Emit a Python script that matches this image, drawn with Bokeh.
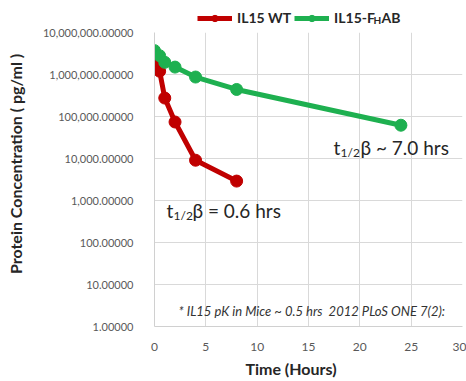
from math import pi
from bokeh.plotting import figure
from bokeh.layouts import column
from bokeh.models import (Range1d, FixedTicker, NumeralTickFormatter, Label,
                          Legend, LegendItem)
from bokeh.embed import file_html
from bokeh.resources import INLINE

# ---- data ----
wt_time = [0, 0.5, 1, 2, 4, 8]
wt_conc = [2300000, 1200000, 275000, 74000, 9100, 2900]
fhab_time = [0, 0.5, 1, 2, 4, 8, 24]
fhab_conc = [3700000, 2800000, 1950000, 1500000, 870000, 440000, 62000]
x_ticks = [0, 5, 10, 15, 20, 25, 30]
y_ticks = [1, 10, 100, 1e3, 1e4, 1e5, 1e6, 1e7]

RED = "#C00000"
GREEN = "#1EB050"
FONT = "Lato"
DARK = "#262626"
NB = "\u00a0"

LEG_H = 26

# ---------------- main chart ----------------
p = figure(width=466, height=354, y_axis_type="log",
           x_range=Range1d(0, 30), y_range=Range1d(1, 1e7),
           output_backend="svg", toolbar_location=None,
           min_border_left=154, min_border_right=4,
           min_border_top=6, min_border_bottom=52)
p.outline_line_color = None

p.xaxis.ticker = FixedTicker(ticks=x_ticks)
p.yaxis.ticker = FixedTicker(ticks=y_ticks)
p.yaxis.formatter = NumeralTickFormatter(format="0,0.00000")
for ax in (p.xaxis, p.yaxis):
    ax.major_tick_line_color = None
    ax.minor_tick_line_color = None
    ax.axis_line_color = "#d0d0d0"
    ax.major_label_text_font = FONT
    ax.major_label_text_font_size = "11px"
    ax.major_label_text_color = "#595959"
    ax.axis_label_text_font = FONT
    ax.axis_label_text_font_style = "bold"
    ax.axis_label_text_color = DARK
p.xaxis.major_label_text_font_size = "12px"
p.xaxis.major_label_standoff = 10
p.yaxis.major_label_standoff = 15
p.xaxis.axis_label = "Time (Hours)" + NB * 9
p.xaxis.axis_label_text_font_size = "16px"
p.xaxis.axis_label_standoff = 5
p.yaxis.axis_label = NB * 8 + "Protein Concentration ( pg/ml )"
p.yaxis.axis_label_text_font_size = "16px"
p.yaxis.axis_label_standoff = 15
p.grid.grid_line_color = "#d9d9d9"
p.grid.grid_line_width = 1

r1 = p.line(wt_time, wt_conc, line_color=RED, line_width=5)
c1 = p.scatter(wt_time, wt_conc, size=12, fill_color=RED, line_color=RED)
r2 = p.line(fhab_time, fhab_conc, line_color=GREEN, line_width=5)
c2 = p.scatter(fhab_time, fhab_conc, size=12, fill_color=GREEN, line_color=GREEN)


def lab(fig, text, sx, sy, size, style="normal", color=DARK):
    fig.add_layout(Label(text=text, x=sx, y=sy, x_units="screen", y_units="screen",
                         text_font=FONT, text_font_size=size, text_font_style=style,
                         text_align="left", text_baseline="middle",
                         text_color=color))


# half-life annotations (screen units from frame bottom-left, vertical centres)
lab(p, "t", 179, 179, "19px")
lab(p, "1/2", 186, 174, "12px")
lab(p, "\u03b2 ~ 7.0 hrs", 206, 179, "19px")
lab(p, "t", 12, 116, "19px")
lab(p, "1/2", 19, 111, "12px")
lab(p, "\u03b2 = 0.6 hrs", 38, 116, "19px")

# footnote
lab(p, "* IL15 pK in Mice ~ 0.5 hrs" + NB + NB + "2012 PLoS ONE 7(2):", 24, 16, "13px",
    "italic", color="#333333")

# ---------------- legend strip (frame aligned with main chart) ----------------
lg = figure(width=466, height=LEG_H, x_range=Range1d(100, 200), y_range=Range1d(1, 1e7),
            y_axis_type="log", output_backend="svg", toolbar_location=None,
            min_border=0, x_axis_location=None, y_axis_location=None)
lg.grid.visible = False
lg.outline_line_color = None
l1 = lg.line(wt_time, wt_conc, line_color=RED, line_width=5)
m1 = lg.scatter(wt_time, wt_conc, size=12, fill_color=RED, line_color=RED)
l2 = lg.line(fhab_time, fhab_conc, line_color=GREEN, line_width=5)
m2 = lg.scatter(fhab_time, fhab_conc, size=12, fill_color=GREEN, line_color=GREEN)

legend = Legend(items=[LegendItem(label="IL15 WT", renderers=[l1, m1]),
                       LegendItem(label="IL15-F", renderers=[l2, m2])],
                location=(43, 0), orientation="horizontal",
                glyph_width=35, glyph_height=16, label_height=16,
                label_standoff=5, spacing=3, padding=0, margin=0,
                border_line_color=None, background_fill_alpha=0,
                label_text_font=FONT, label_text_font_style="bold",
                label_text_font_size="14px", label_text_color=DARK)
lg.add_layout(legend)
lab(lg, "H", 219, 6.5, "10px", "bold")
lab(lg, "AB", 227, 9, "14px", "bold")

layout = column(lg, p, spacing=0)
open("out.html", "w").write(file_html(layout, INLINE))
